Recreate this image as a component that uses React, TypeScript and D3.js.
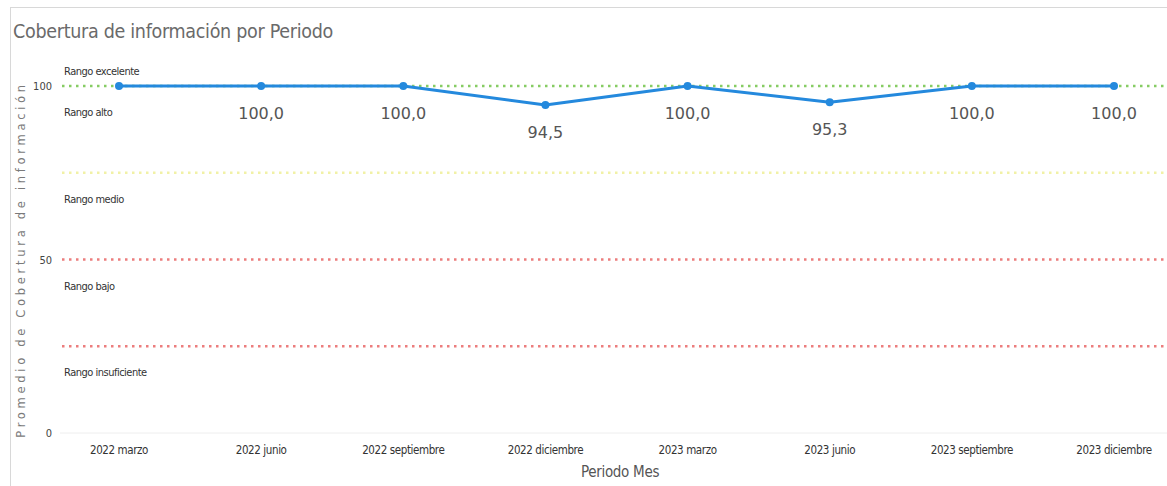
import React from "react";
import * as d3 from "d3";

const categories = ["2022 marzo", "2022 junio", "2022 septiembre", "2022 diciembre", "2023 marzo", "2023 junio", "2023 septiembre", "2023 diciembre"];
const values = [100, 100, 100, 94.5, 100, 95.3, 100, 100];
const showLabel = [false, true, true, true, true, true, true, true];
const yTicks = [0, 50, 100];
const thresholds = [
  { value: 100, color: "#86cc63" },
  { value: 75, color: "#f1f1a6" },
  { value: 50, color: "#ec7d7d" },
  { value: 25, color: "#ec7d7d" },
];
const rangeLabels = [
  { value: 100, text: "Rango excelente", above: true },
  { value: 100, text: "Rango alto", above: false },
  { value: 75, text: "Rango medio", above: false },
  { value: 50, text: "Rango bajo", above: false },
  { value: 25, text: "Rango insuficiente", above: false },
];

const W = 1167, H = 486;
const condensed = "'Liberation Sans Narrow', 'DejaVu Sans Condensed', 'Open Sans', sans-serif";

export default function App() {
  const x = d3.scalePoint<string>().domain(categories).range([119, 1114]);
  const y = d3.scaleLinear().domain([0, 100]).range([433, 86]);
  const line = d3.line<number>().x((_, i) => x(categories[i])!).y((d) => y(d));
  const fmt = (v: number) => v.toFixed(1).replace(".", ",");
  return (
    <svg width={W} height={H} style={{ position: "absolute", left: 0, top: 0, background: "#fff" }}>
      <rect x={10.5} y={7.5} width={W} height={H} fill="none" stroke="#d8d8d8" />
      <text x={13} y={38} fontFamily={condensed} fontSize={19.5} letterSpacing={-0.3} fill="#6a6a6a">Cobertura de información por Periodo</text>
      <text transform={`translate(25,${y(50)}) rotate(-90)`} textAnchor="middle" fontFamily="'DejaVu Sans', sans-serif" fontSize={11.5} letterSpacing={3.7} fill="#7a7a7a">Promedio de Cobertura de información</text>
      <line x1={60} x2={W} y1={y(0)} y2={y(0)} stroke="#eeeeee" />
      {yTicks.map((t) => (
        <text key={t} x={52} y={y(t) + 4} textAnchor="end" fontFamily={condensed} fontSize={11} fill="#444">{t}</text>
      ))}
      {thresholds.map((t, i) => (
        <line key={i} x1={62} x2={W} y1={y(t.value)} y2={y(t.value)} stroke={t.color} strokeWidth={2.6} strokeDasharray="2.5 4.5" />
      ))}
      {rangeLabels.map((r, i) => (
        <text key={i} x={64} y={y(r.value) + (r.above ? -11 : 30)} fontFamily={condensed} fontSize={11} fill="#333" letterSpacing={-0.5}>{r.text}</text>
      ))}
      <path d={line(values) || ""} fill="none" stroke="#2489dd" strokeWidth={3} strokeLinejoin="round" />
      {values.map((v, i) => (
        <circle key={i} cx={x(categories[i])!} cy={y(v)} r={4} fill="#2489dd" />
      ))}
      {values.map((v, i) =>
        showLabel[i] ? (
          <text key={i} x={x(categories[i])!} y={y(v) + 33} textAnchor="middle" fontFamily="'DejaVu Sans', sans-serif" fontSize={16} fill="#555">{fmt(v)}</text>
        ) : null
      )}
      {categories.map((c) => (
        <text key={c} x={x(c)!} y={454} textAnchor="middle" fontFamily={condensed} fontSize={11.5} letterSpacing={-0.4} fill="#333">{c}</text>
      ))}
      <text x={620} y={477} textAnchor="middle" fontFamily={condensed} fontSize={15} letterSpacing={-0.3} fill="#555">Periodo Mes</text>
    </svg>
  );
}
